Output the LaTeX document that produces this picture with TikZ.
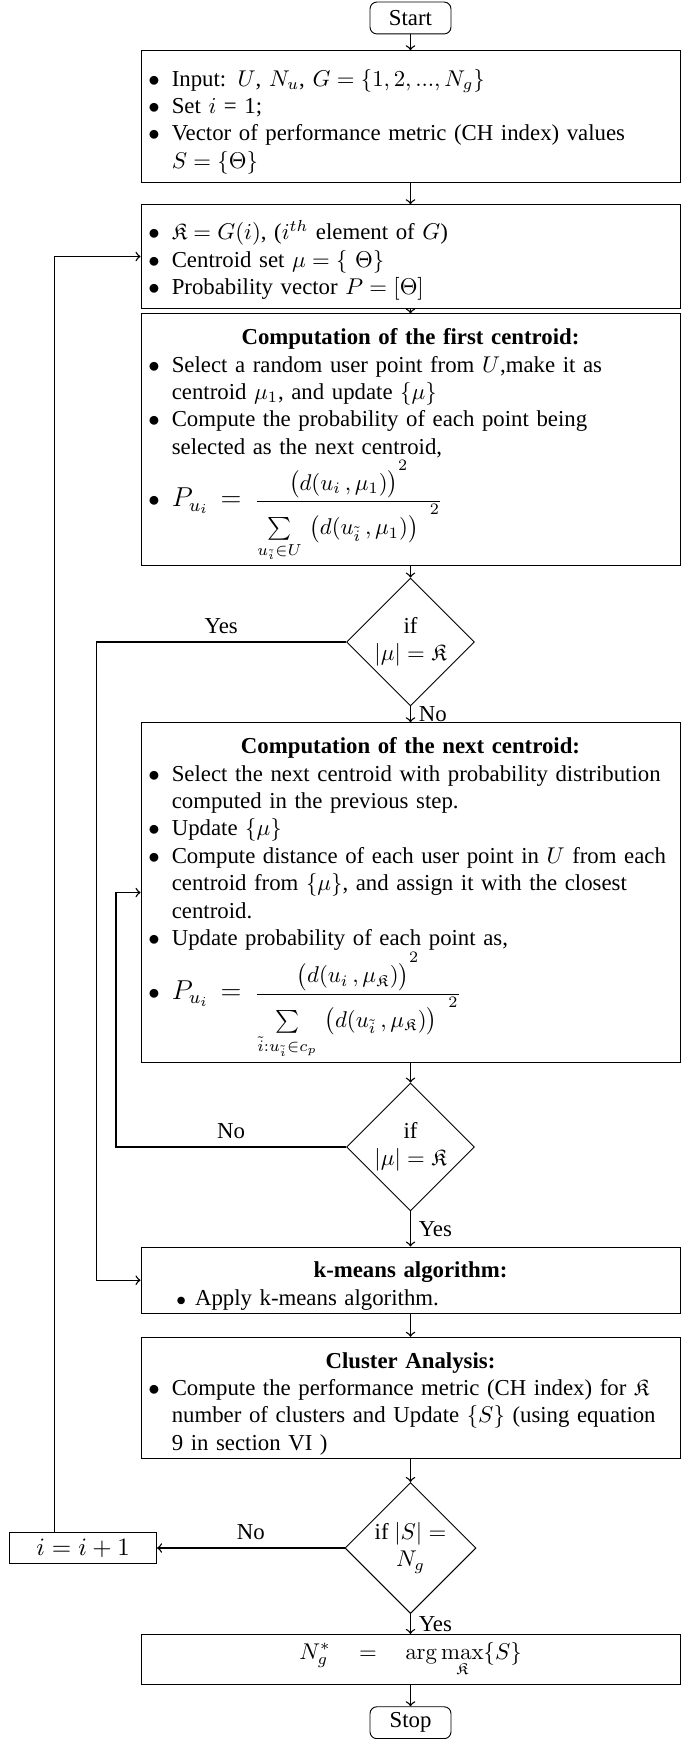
\documentclass[tikz,border=0pt]{standalone}
\usepackage[no-math]{fontspec}
\setmainfont{Liberation Serif}
\usepackage{amsmath,amssymb}
\usetikzlibrary{shapes.geometric}

% bullets with hanging indent for the text boxes (ragged right)
\newdimen\itemrs \itemrs=0pt
\newcommand{\bitem}{\par\rightskip=\itemrs plus 1fil\hangindent=10.3pt\hangafter=1\noindent\hbox to 10.3pt{$\bullet$\hfil}}
\newcommand{\sitem}{\par\rightskip=\itemrs plus 1fil\hangindent=20.5pt\hangafter=1\noindent\hbox to 20.5pt{\hskip12.3pt{\footnotesize$\bullet$}\hfil}}
\newcommand{\boxtitle}[1]{\par\hbox to\hsize{\hfil\textbf{#1}\hfil}}
% invisible strut that lifts the square above the closing bracket
\newcommand{\sqstrut}{\rule{0pt}{11.2pt}}

\begin{document}
\begin{tikzpicture}[x=0.4386pt, y=0.4386pt,
    flow/.style={->, semithick},
    procbox/.style={draw, thin, text width=230pt, inner xsep=3.2pt, inner ysep=1.5pt, align=left},
    termbox/.style={draw, thin, rounded corners=3pt, minimum width=35.5pt, minimum height=14pt, inner sep=0pt},
    decision/.style={draw, thin, diamond, aspect=1, inner sep=0pt, minimum width=56.1pt, minimum height=56.1pt, align=center}]
    % canvas in pixel units: 699 x 1739, measured downwards from the top
    \useasboundingbox (0,0) rectangle (699,-1739);
    \def\cx{410.5}  % centre line of the main column
    \node[termbox] (start) at (\cx,-18) {Start};
    \node[procbox, minimum height=57.6pt] (init) at (\cx,-116.4) {%
        \bitem Input: $U$, $N_u$, $G=\{1,2,...,N_g\}$
        \bitem Set $i$ = 1;
        \bitem Vector of performance metric (CH index) values ${S=\{\Theta\}}$\par};
    \node[procbox, minimum height=45.4pt] (setk) at (\cx,-256.5) {%
        \bitem $\mathfrak{K}=G(i)$, ($i^{th}$ element of $G$)
        \bitem Centroid set $\mu=\{\ \Theta\}$
        \bitem Probability vector $P=[\Theta]$\par};
    \node[procbox, minimum height=110.4pt] (first) at (\cx,-439.8) {\itemrs=4pt%
        \boxtitle{Computation of the first centroid:}
        \bitem Select a random user point from $U$,make it as centroid $\mu_1$, and update $\{\mu\}$
        \bitem Compute the probability of each point being selected as the next centroid,
        \bitem $\displaystyle\text{\large$P_{u_i}$}\hspace{2.5pt}\mathrel{\text{\large$=$}}\hspace{3pt}\frac{\big(d(u_i\,,\mu_1){\big)\sqstrut}^2}{\sum\limits_{u_{\tilde{i}}\in U}\,\big(d(u_{\tilde{i}}\,,\mu_1){\big)\sqstrut\hspace{5pt}}^2}$\par};
    \node[decision] (dec1) at (\cx,-642) {if\\$|\mu|=\mathfrak{K}$};
    \node[procbox, minimum height=148.9pt] (next) at (\cx,-892.5) {%
        \boxtitle{Computation of the next centroid:}
        \bitem Select the next centroid with probability distribution computed in the previous step.
        \bitem Update $\{\mu\}$
        \bitem Compute distance of each user point in $U$ from each centroid from $\{\mu\}$, and assign it with the closest centroid.
        \bitem Update probability of each point as,
        \bitem $\displaystyle\text{\large$P_{u_i}$}\hspace{2.5pt}\mathrel{\text{\large$=$}}\hspace{3pt}\frac{\big(d(u_i\,,\mu_{\mathfrak{K}}){\big)\sqstrut}^2}{\sum\limits_{\tilde{i}:u_{\tilde{i}}\in c_p}\,\big(d(u_{\tilde{i}}\,,\mu_{\mathfrak{K}}){\big)\sqstrut\hspace{5pt}}^2}$\par};
    \node[decision] (dec2) at (\cx,-1147) {if\\$|\mu|=\mathfrak{K}$};
    \node[procbox, minimum height=27.9pt] (kmeans) at (\cx,-1280.2) {%
        \boxtitle{k-means algorithm:}
        \sitem Apply k-means algorithm.\par};
    \node[procbox, minimum height=51.6pt] (clus) at (\cx,-1397.8) {%
        \boxtitle{Cluster Analysis:}
        \bitem Compute the performance metric (CH index) for $\mathfrak{K}$ number of clusters and Update $\{S\}$ (using equation 9 in section VI )\par};
    \node[decision, minimum width=57.5pt, minimum height=57.5pt] (dec3) at (\cx,-1548) {if $|S|=$\\$N_g$};
    \node[draw, thin, minimum width=64.4pt, minimum height=13.9pt, inner sep=0pt, font=\fontsize{11}{13}\selectfont] (inc) at (83.2,-1548) {$i=i+1$};
    \node[procbox, align=center, minimum height=21.8pt] (opt) at (\cx,-1659.2) {%
        $N_g^*$\hspace{12.5pt}$=$\hspace{12.5pt}$\arg\max\limits_{\mathfrak{K}}\{S\}$};
    \node[termbox] (stop) at (\cx,-1722.7) {Stop};
    % x positions of the vertical return lines
    \coordinate (loopx) at (54.5,0);
    \coordinate (yesx) at (96.4,0);
    \coordinate (nox) at (116,0);
    % main column
    \draw[flow] (start) -- (init);
    \draw[flow] (init) -- (setk);
    \draw[flow] (setk) -- (first);
    \draw[flow] (first) -- (dec1);
    \draw[flow] (dec1) -- node[right] {No} (next);
    \draw[flow] (next) -- (dec2);
    \draw[flow] (dec2) -- node[right] {Yes} (kmeans);
    \draw[flow] (kmeans) -- (clus);
    \draw[flow] (clus) -- (dec3);
    \draw[flow] (dec3) -- node[right] {Yes} (opt);
    \draw[flow] (opt) -- (stop);
    % side branches
    \draw[flow] (dec1.west) -- node[above] {Yes} (dec1.west -| yesx) |- (kmeans.west);
    \draw[flow] (dec2.west) -- node[above] {No} (dec2.west -| nox) |- (next.west);
    \draw[flow] (dec3.west) -- node[above] {No} (inc.east);
    \draw[flow] (inc.north -| loopx) |- (setk.west);
\end{tikzpicture}
\end{document}
